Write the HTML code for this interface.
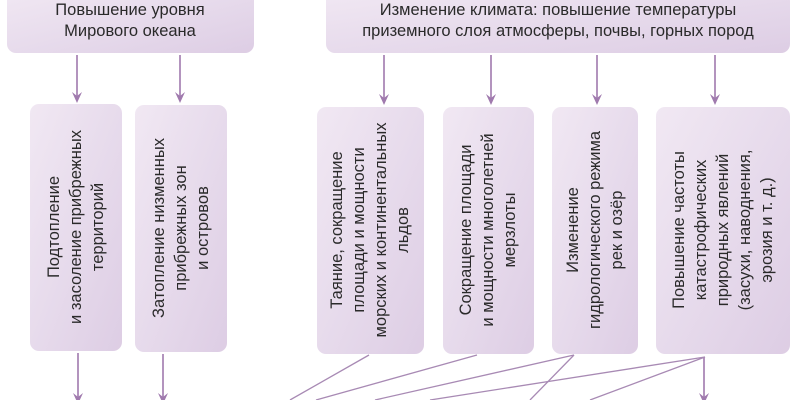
<!DOCTYPE html>
<html><head><meta charset="utf-8"><style>
html,body{margin:0;padding:0;background:#fff;}
svg{display:block;}
text{font-family:"Liberation Sans","DejaVu Sans",sans-serif;font-size:16.5px;fill:#2a2a2a;}
</style></head><body>
<svg width="800" height="400" viewBox="0 0 800 400" xmlns="http://www.w3.org/2000/svg">
<defs>
<linearGradient id="g" x1="0" y1="0" x2="1" y2="1">
<stop offset="0" stop-color="#f1e8f3"/><stop offset="0.5" stop-color="#e7dbec"/><stop offset="1" stop-color="#ddcde4"/>
</linearGradient>
</defs>
<g fill="url(#g)">
<rect x="7" y="-10" width="247" height="63" rx="9"/>
<rect x="326" y="-10" width="464" height="63" rx="9"/>
<rect x="30" y="104" width="92" height="247" rx="9"/>
<rect x="135" y="105" width="92" height="247" rx="9"/>
<rect x="317" y="107" width="107" height="247" rx="9"/>
<rect x="443" y="107" width="91" height="247" rx="9"/>
<rect x="552" y="107" width="86" height="247" rx="9"/>
<rect x="656" y="107" width="134" height="247" rx="9"/>
</g>
<g stroke="#a07aae" stroke-width="1.6" fill="none">
<line x1="77" y1="55" x2="77" y2="98"/>
<line x1="180" y1="55" x2="180" y2="98"/>
<line x1="384" y1="55" x2="384" y2="100"/>
<line x1="491" y1="55" x2="491" y2="100"/>
<line x1="597" y1="55" x2="597" y2="100"/>
<line x1="715" y1="55" x2="715" y2="100"/>
<line x1="78" y1="353" x2="78" y2="400"/>
<line x1="163" y1="354" x2="163" y2="400"/>
<line x1="704" y1="357" x2="704" y2="400"/>
</g>
<g fill="#a07aae">
<path d="M72,92 L77,103 L82,92 L77,96 Z"/>
<path d="M175,92 L180,103 L185,92 L180,96 Z"/>
<path d="M379,94 L384,105 L389,94 L384,98 Z"/>
<path d="M486,94 L491,105 L496,94 L491,98 Z"/>
<path d="M592,94 L597,105 L602,94 L597,98 Z"/>
<path d="M710,94 L715,105 L720,94 L715,98 Z"/>
<path d="M73,393 L78,404 L83,393 L78,397 Z"/>
<path d="M158,393 L163,404 L168,393 L163,397 Z"/>
<path d="M699,393 L704,404 L709,393 L704,397 Z"/>
</g>
<g stroke="#a88ab4" stroke-width="1.3">
<line x1="369" y1="355" x2="290" y2="400"/>
<line x1="477" y1="355" x2="316" y2="400"/>
<line x1="574" y1="355" x2="375" y2="400"/>
<line x1="574" y1="355" x2="530" y2="400"/>
<line x1="705" y1="357" x2="430" y2="400"/>
<line x1="705" y1="357" x2="590" y2="400"/>
</g>
<g text-anchor="middle">
<text x="130" y="15">Повышение уровня</text>
<text x="130" y="36">Мирового океана</text>
<text x="558" y="15">Изменение климата: повышение температуры</text>
<text x="558" y="36">приземного слоя атмосферы, почвы, горных пород</text>
</g>
<g text-anchor="middle">
<g transform="translate(76,227) rotate(-90)">
<text x="0" y="-17">Подтопление</text><text x="0" y="5">и засоление прибрежных</text><text x="0" y="27">территорий</text></g>
<g transform="translate(181,228) rotate(-90)">
<text x="0" y="-17">Затопление низменных</text><text x="0" y="5">прибрежных зон</text><text x="0" y="27">и островов</text></g>
<g transform="translate(370,230) rotate(-90)">
<text x="0" y="-28">Таяние, сокращение</text><text x="0" y="-6">площади и мощности</text><text x="0" y="16">морских и континентальных</text><text x="0" y="38">льдов</text></g>
<g transform="translate(488,230) rotate(-90)">
<text x="0" y="-17">Сокращение площади</text><text x="0" y="5">и мощности многолетней</text><text x="0" y="27">мерзлоты</text></g>
<g transform="translate(595,230) rotate(-90)">
<text x="0" y="-17">Изменение</text><text x="0" y="5">гидрологического режима</text><text x="0" y="27">рек и озёр</text></g>
<g transform="translate(723,230) rotate(-90)">
<text x="0" y="-39">Повышение частоты</text><text x="0" y="-17">катастрофических</text><text x="0" y="5">природных явлений</text><text x="0" y="27">(засухи, наводнения,</text><text x="0" y="49">эрозия и т. д.)</text></g>
</g>
</svg>
</body></html>
